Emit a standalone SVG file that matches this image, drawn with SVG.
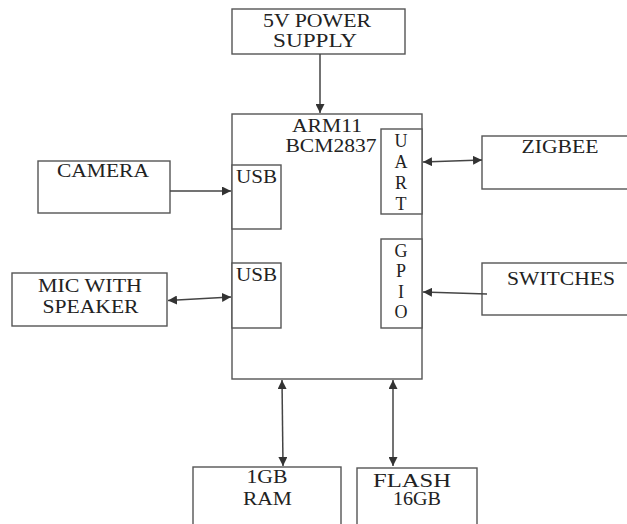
<svg xmlns="http://www.w3.org/2000/svg" width="627" height="524" viewBox="0 0 627 524">
<style>
.box{fill:#fff;stroke:#555;stroke-width:1.4}
.t{font-family:"Liberation Serif","Times New Roman",serif;font-size:18px;fill:#222;text-anchor:middle}
.c{stroke:#444;stroke-width:1.5;fill:none}
</style>
<defs>
<marker id="ah" viewBox="0 0 10 10" refX="10" refY="5" markerWidth="9" markerHeight="9" markerUnits="userSpaceOnUse" orient="auto-start-reverse">
<path d="M0,0 L10,5 L0,10 Z" fill="#333"/>
</marker>
</defs>
<rect width="627" height="524" fill="#fff"/>
<g id="power">
<rect class="box" x="232" y="9" width="173" height="45"/>
<text class="t" x="317" y="27" textLength="108" lengthAdjust="spacingAndGlyphs">5V POWER</text>
<text class="t" x="315" y="47" textLength="84" lengthAdjust="spacingAndGlyphs">SUPPLY</text>
</g>
<g id="arm">
<rect class="box" x="232" y="114" width="190" height="265"/>
<text class="t" x="327" y="132" textLength="70" lengthAdjust="spacingAndGlyphs">ARM11</text>
<text class="t" x="331" y="152" textLength="91" lengthAdjust="spacingAndGlyphs">BCM2837</text>
</g>
<g id="usb1">
<rect class="box" x="232" y="165" width="49" height="64"/>
<text class="t" x="256.5" y="183" textLength="41" lengthAdjust="spacingAndGlyphs">USB</text>
</g>
<g id="usb2">
<rect class="box" x="232" y="263" width="49" height="65"/>
<text class="t" x="256.5" y="281" textLength="41" lengthAdjust="spacingAndGlyphs">USB</text>
</g>
<g id="uart">
<rect class="box" x="381" y="129" width="41" height="85"/>
<text class="t" x="401" y="147">U</text>
<text class="t" x="401" y="168">A</text>
<text class="t" x="401" y="189">R</text>
<text class="t" x="401" y="210">T</text>
</g>
<g id="gpio">
<rect class="box" x="381" y="239" width="41" height="89"/>
<text class="t" x="401" y="257">G</text>
<text class="t" x="401" y="277">P</text>
<text class="t" x="401" y="298">I</text>
<text class="t" x="401" y="318">O</text>
</g>
<g id="camera">
<rect class="box" x="38" y="161" width="132" height="52"/>
<text class="t" x="103" y="177" textLength="92" lengthAdjust="spacingAndGlyphs">CAMERA</text>
</g>
<g id="mic">
<rect class="box" x="12" y="273" width="155" height="53"/>
<text class="t" x="90" y="292" textLength="104" lengthAdjust="spacingAndGlyphs">MIC WITH</text>
<text class="t" x="90.5" y="313" textLength="96" lengthAdjust="spacingAndGlyphs">SPEAKER</text>
</g>
<g id="zigbee">
<rect class="box" x="482" y="136" width="160" height="53"/>
<text class="t" x="560" y="153" textLength="77" lengthAdjust="spacingAndGlyphs">ZIGBEE</text>
</g>
<g id="switches">
<rect class="box" x="482" y="263" width="160" height="52"/>
<text class="t" x="561" y="285" textLength="108" lengthAdjust="spacingAndGlyphs">SWITCHES</text>
</g>
<g id="ram">
<rect class="box" x="193" y="467" width="148" height="70"/>
<text class="t" x="267" y="483" textLength="41" lengthAdjust="spacingAndGlyphs">1GB</text>
<text class="t" x="267.5" y="505" textLength="49" lengthAdjust="spacingAndGlyphs">RAM</text>
</g>
<g id="flash">
<rect class="box" x="357" y="468" width="120" height="70"/>
<text class="t" x="412" y="487" textLength="78" lengthAdjust="spacingAndGlyphs">FLASH</text>
<text class="t" x="417" y="505" textLength="48" lengthAdjust="spacingAndGlyphs">16GB</text>
</g>
<g id="connectors">
<line class="c" x1="320" y1="54" x2="320" y2="113" marker-end="url(#ah)"/>
<line class="c" x1="170" y1="191" x2="231" y2="191" marker-end="url(#ah)"/>
<line class="c" x1="168" y1="300.5" x2="231" y2="297" marker-start="url(#ah)" marker-end="url(#ah)"/>
<line class="c" x1="423" y1="162" x2="482" y2="160" marker-start="url(#ah)" marker-end="url(#ah)"/>
<line class="c" x1="487" y1="294" x2="423" y2="292" marker-end="url(#ah)"/>
<line class="c" x1="282" y1="380" x2="283" y2="466" marker-start="url(#ah)" marker-end="url(#ah)"/>
<line class="c" x1="393" y1="380" x2="393" y2="466" marker-start="url(#ah)" marker-end="url(#ah)"/>
</g>
</svg>
